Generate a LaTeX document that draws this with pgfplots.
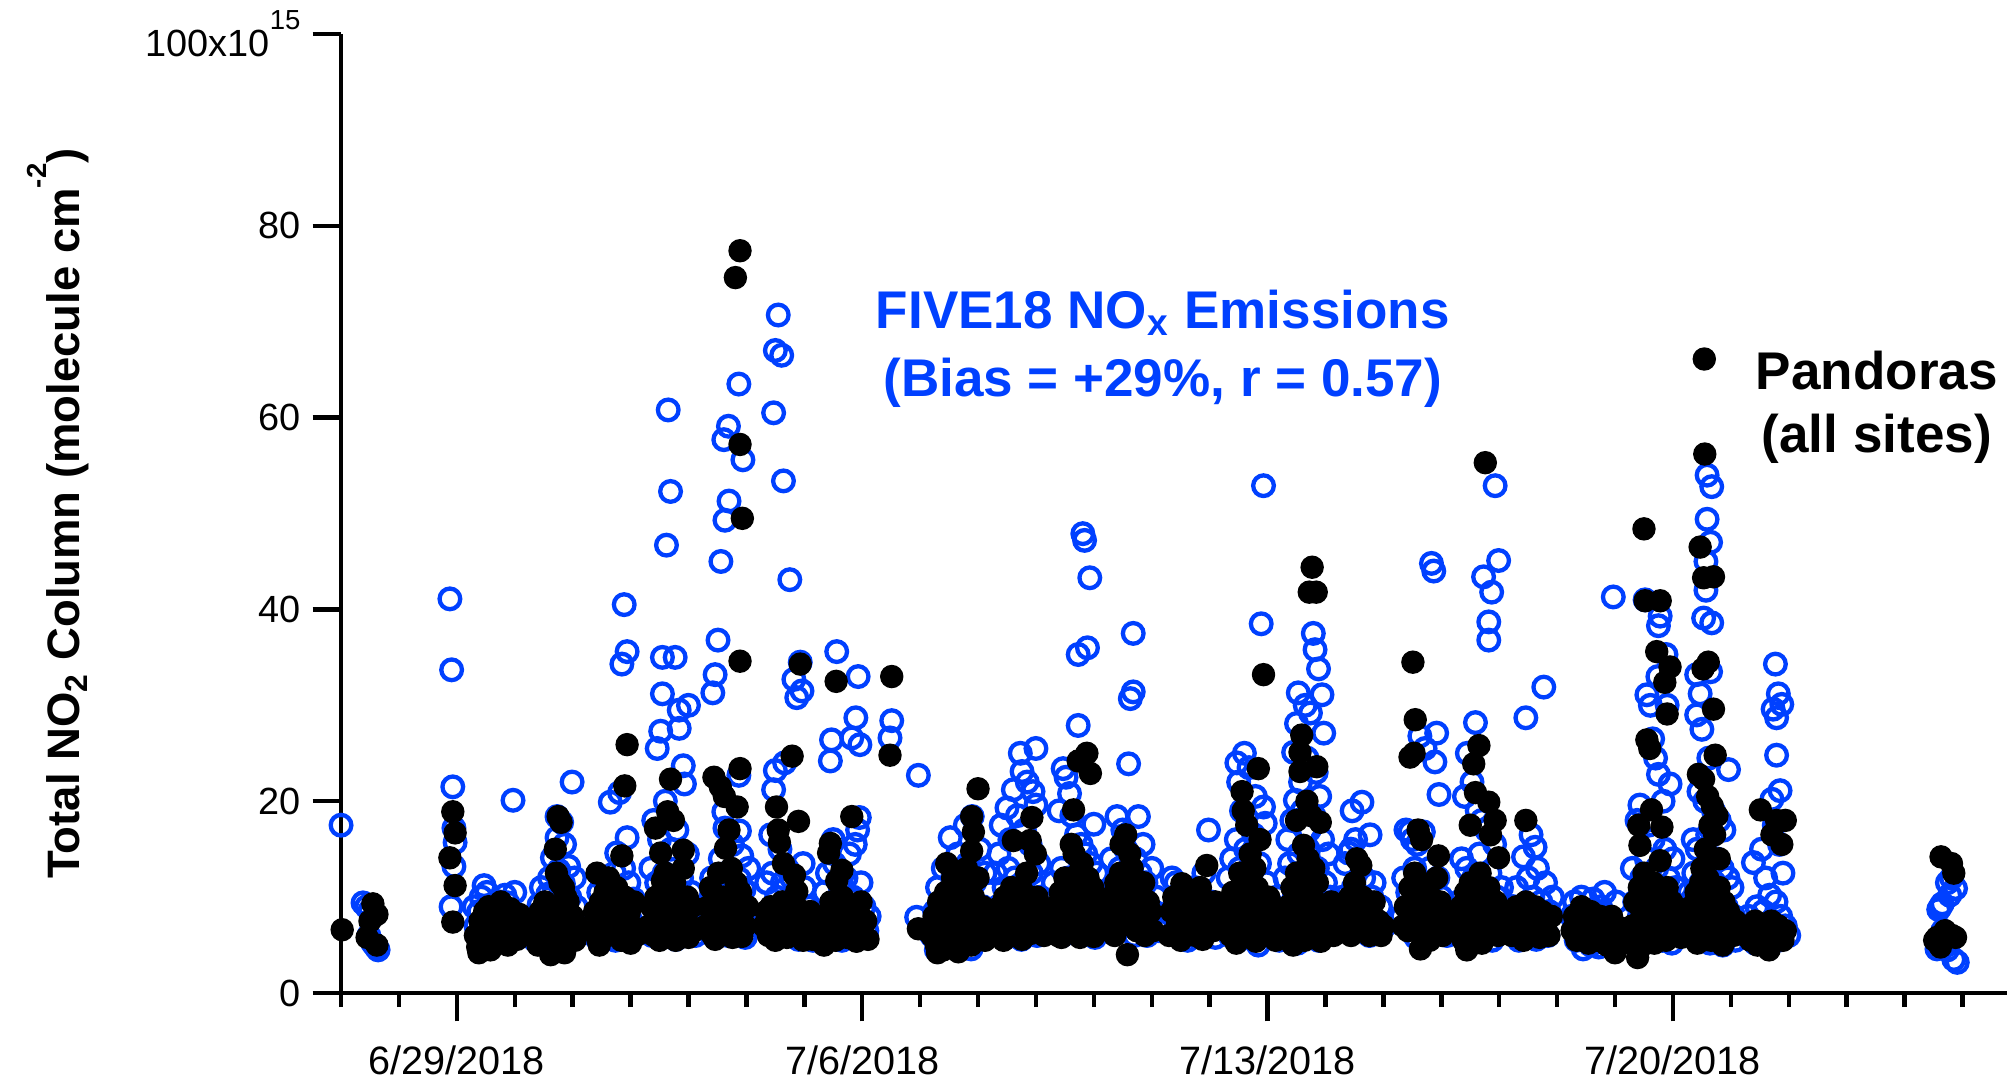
\documentclass[border=0pt]{standalone}
\usepackage{fontspec}
\setmainfont{Liberation Sans}
\usepackage{pgfplots}
\pgfplotsset{compat=1.18}
\usetikzlibrary{calc}
\definecolor{fiveblue}{RGB}{0,64,255}
\newcommand{\hisup}[1]{\raisebox{0.72em}{\fontsize{8}{8}\selectfont #1}}

\begin{document}
\begin{tikzpicture}
\begin{axis}[
    name=ax,
    scale only axis,
    width=17.0cm, height=9.786cm,
    xmin=0, xmax=28.77,
    ymin=0, ymax=100,
    axis lines=left,
    axis line style={-, line width=1.3pt},
    tick align=outside,
    tick style={black, line width=1.3pt},
    major tick length=0.29cm,
    minor tick length=0.145cm,
    xtick={2,9,16,23},
    xticklabels={6/29/2018,7/6/2018,7/13/2018,7/20/2018},
    minor xtick={0,1,...,28},
    ytick={0,20,40,60,80,100},
    yticklabels={0,20,40,60,80,100x10\hisup{15}},
    yticklabel style={font=\fontsize{11}{13}\selectfont},
    xticklabel style={font=\fontsize{11.5}{13}\selectfont, yshift=-0.12cm},
    /pgf/number format/assume math mode=true,
    ylabel={Total NO\textsubscript{2} Column (molecule cm\hisup{-2})},
    ylabel style={font=\bfseries\fontsize{13.2}{15}\selectfont,
        at={(axis description cs:-0.170,0.5)}, anchor=center},
    legend style={draw=none, fill=none, inner sep=0pt, nodes={inner sep=0pt},
        at={(0.8193,0.6611)}, anchor=center},
    clip=false,
]

% FIVE18 NOx emissions (model)
\addplot[only marks, mark=o, mark size=3.0pt, fiveblue, line width=1.25pt, forget plot] coordinates {
(0.00,17.5)
(0.38,9.4) (0.44,9.0) (0.50,8.6) (0.55,5.2) (0.60,4.8) (0.64,4.5) (0.48,6.0)
(1.88,41.1) (1.91,33.7) (1.93,21.5) (1.95,17.2) (1.97,15.7) (1.95,13.2) (1.90,9.0)
(2.97,20.1) (2.33,7.0) (2.38,8.5) (2.42,10.0) (2.47,11.2) (2.52,10.5) (2.56,9.0) (2.60,6.0) (2.65,5.5) (2.70,7.5) (2.74,9.5) (2.78,8.0) (2.83,10.2) (2.88,9.4) (2.92,7.2) (2.96,6.5) (3.02,8.0) (3.05,5.8) (2.50,5.2) (2.44,6.3) (2.86,5.4) (3.00,10.5) (2.30,9.0)
(3.99,22.0) (3.73,18.4) (3.81,17.8) (3.73,16.2) (3.86,15.5) (3.65,14.1) (3.57,10.3) (3.38,7.5) (3.42,9.2) (3.46,11.0) (3.50,8.4) (3.55,6.2) (3.60,12.0) (3.62,8.8) (3.68,10.6) (3.70,6.8) (3.76,12.8) (3.79,9.5) (3.84,11.4) (3.89,8.0) (3.93,13.2) (3.95,10.0) (4.00,7.0) (4.03,12.0) (4.06,9.0) (4.08,6.0) (3.35,5.5) (3.90,5.3)
(4.89,40.5) (4.94,35.6) (4.85,34.3) (4.81,20.9) (4.65,19.9) (4.94,16.2) (4.76,14.6) (4.53,8.8) (4.35,6.5) (4.40,8.0) (4.45,10.5) (4.50,12.0) (4.56,7.0) (4.60,11.0) (4.68,9.5) (4.72,12.5) (4.79,7.5) (4.84,10.0) (4.88,13.0) (4.92,9.0) (4.97,11.5) (5.01,7.2) (5.05,9.8) (5.10,6.4) (4.62,6.0) (4.74,5.5) (4.98,5.8) (4.43,5.6)
(5.65,60.8) (5.69,52.3) (5.62,46.7) (5.55,35.0) (5.77,35.0) (5.55,31.2) (6.00,30.0) (5.84,29.5) (5.52,27.3) (5.84,27.6) (5.46,25.5) (5.91,23.7) (5.93,21.8) (5.60,20.0) (5.40,18.0) (5.50,16.0) (5.70,15.0) (5.80,17.0) (5.98,14.5) (5.35,13.0) (5.45,11.5) (5.58,12.5) (5.66,10.0) (5.74,11.0) (5.88,12.0) (5.95,9.5) (6.05,10.5) (6.10,8.0) (5.32,8.5) (5.42,7.0) (5.53,9.0) (5.63,6.5) (5.72,8.0) (5.82,7.0) (5.90,6.2) (6.02,7.5) (5.37,6.0) (5.78,5.6) (6.12,6.0)
(6.87,63.5) (6.69,59.1) (6.61,57.7) (6.94,55.6) (6.70,51.3) (6.63,49.3) (6.56,45.0) (6.51,36.8) (6.46,33.2) (6.42,31.3) (6.87,22.7) (6.88,16.9) (6.61,18.9) (6.63,17.2) (6.92,14.3) (6.88,11.9) (6.30,7.5) (6.35,9.5) (6.40,12.0) (6.45,8.0) (6.50,10.5) (6.55,14.0) (6.58,7.0) (6.66,12.5) (6.72,9.0) (6.76,15.5) (6.80,10.0) (6.84,7.5) (6.90,8.5) (6.96,10.8) (7.00,7.0) (7.04,13.0) (6.68,6.0) (6.38,6.2) (6.98,5.8)
(7.55,70.7) (7.50,67.0) (7.61,66.5) (7.47,60.5) (7.64,53.4) (7.75,43.1) (7.93,34.5) (7.82,32.7) (7.96,31.5) (7.87,30.8) (7.50,23.2) (7.47,21.2) (7.98,13.5) (7.66,24.0) (7.42,16.5) (7.58,15.0) (7.70,13.0) (7.35,11.5) (7.45,12.5) (7.52,10.0) (7.62,11.5) (7.72,9.5) (7.78,12.0) (7.85,10.5) (7.92,8.5) (8.00,11.0) (8.06,9.0) (8.12,7.0) (7.30,8.0) (7.38,6.5) (7.48,7.5) (7.56,6.0) (7.68,7.0) (7.80,6.0) (7.90,5.6) (8.02,6.5) (8.15,5.5)
(8.56,35.6) (8.93,33.0) (8.89,28.7) (8.96,25.9) (8.82,26.6) (8.47,26.4) (8.45,24.2) (8.95,18.3) (8.92,17.0) (8.50,16.0) (8.30,8.0) (8.35,10.5) (8.40,12.5) (8.44,7.5) (8.52,13.5) (8.58,9.5) (8.62,11.0) (8.68,8.0) (8.72,12.0) (8.78,14.5) (8.84,10.0) (8.88,15.5) (8.90,7.0) (8.98,11.5) (9.03,9.0) (9.08,6.5) (8.38,6.0) (8.65,5.5) (8.80,6.5) (9.12,8.0)
(9.51,28.4) (9.48,26.6) (9.97,22.7) (9.94,7.9)
(10.20,6.0) (10.25,8.5) (10.30,11.0) (10.35,5.0) (10.40,13.0) (10.45,9.5) (10.50,7.0) (10.52,16.2) (10.56,12.0) (10.60,4.8) (10.65,14.5) (10.70,10.0) (10.74,6.5) (10.78,17.5) (10.82,13.5) (10.86,8.5) (10.90,18.4) (10.94,11.5) (10.98,5.5) (11.03,15.0) (11.08,9.0) (11.12,12.5) (11.18,7.0) (10.28,4.5) (10.42,5.6) (10.62,7.8) (10.88,4.6) (11.00,6.5)
(12.00,25.5) (11.73,25.0) (11.76,23.1) (11.61,21.2) (11.50,19.3) (12.00,19.6) (11.85,22.0) (11.95,21.0) (11.40,17.5) (11.55,16.0) (11.68,18.5) (11.80,17.0) (11.90,15.5) (12.05,13.5) (11.30,12.5) (11.36,14.5) (11.45,11.0) (11.52,13.0) (11.58,9.5) (11.64,12.0) (11.70,8.0) (11.78,11.0) (11.84,9.0) (11.92,12.5) (11.97,7.5) (12.08,10.0) (12.14,8.0) (11.26,7.0) (11.34,9.0) (11.48,6.5) (11.62,6.0) (11.75,5.6) (11.88,6.5) (12.02,6.0)
(12.81,47.9) (12.84,47.2) (12.93,43.3) (12.89,36.0) (12.73,35.3) (12.73,27.9) (12.47,23.4) (12.52,22.5) (12.58,20.8) (13.00,17.6) (12.40,19.0) (12.62,18.5) (12.70,16.5) (12.78,15.5) (12.86,14.5) (12.95,13.5) (13.05,12.5) (12.30,11.5) (12.35,9.0) (12.44,13.0) (12.50,10.5) (12.56,12.0) (12.66,8.5) (12.75,11.0) (12.82,9.5) (12.90,10.5) (12.98,8.0) (13.08,9.5) (13.14,7.0) (12.32,6.5) (12.46,6.0) (12.60,7.0) (12.72,6.2) (12.92,6.5) (13.02,5.8)
(13.68,37.5) (13.68,31.4) (13.63,30.7) (13.60,23.9) (13.77,18.4) (13.40,18.4) (13.50,17.0) (13.85,15.5) (13.30,14.0) (13.45,13.0) (13.55,15.0) (13.72,14.0) (13.80,12.5) (13.90,11.5) (14.00,13.0) (14.08,10.0) (13.26,9.5) (13.35,11.0) (13.42,8.5) (13.58,10.5) (13.66,9.0) (13.75,8.0) (13.86,9.5) (13.95,7.5) (14.04,8.5) (14.12,6.5) (13.32,6.5) (13.52,7.0) (13.70,6.0) (13.92,6.0)
(14.98,17.0) (14.35,12.0) (14.42,11.5) (14.50,10.5) (14.58,9.5) (14.66,8.5) (14.74,11.0) (14.82,10.0) (14.90,12.5) (14.95,8.0) (15.02,9.5) (15.08,7.5) (14.30,7.5) (14.40,6.5) (14.55,7.0) (14.70,6.0) (14.86,6.5) (15.10,5.8) (14.62,5.5)
(15.93,52.9) (15.89,38.5) (15.60,25.0) (15.47,24.0) (15.68,23.5) (15.50,22.0) (15.79,20.5) (15.93,19.4) (15.96,17.7) (15.55,19.0) (15.28,9.0) (15.32,12.0) (15.38,14.0) (15.42,10.0) (15.46,16.0) (15.52,13.0) (15.58,11.0) (15.62,15.0) (15.66,9.0) (15.72,12.5) (15.76,16.5) (15.82,10.5) (15.86,13.5) (15.90,8.0) (15.98,11.5) (16.04,9.5) (16.10,7.0) (16.16,10.0) (15.35,6.0) (15.50,5.5) (15.70,6.5) (15.84,5.0) (16.00,6.0) (16.20,5.5)
(16.79,37.5) (16.82,35.8) (16.88,33.8) (16.94,31.1) (16.53,31.3) (16.65,30.0) (16.74,29.2) (16.97,27.1) (16.50,28.1) (16.45,25.1) (16.48,20.1) (16.68,24.5) (16.84,23.0) (16.57,22.0) (16.90,20.5) (16.35,16.0) (16.42,18.0) (16.60,19.0) (16.72,17.0) (16.80,18.5) (16.95,16.0) (17.05,14.5) (16.30,12.0) (16.38,13.5) (16.46,10.0) (16.54,14.5) (16.62,12.0) (16.70,15.0) (16.76,11.0) (16.86,13.0) (16.92,9.5) (17.00,11.5) (17.08,10.0) (17.15,8.0) (16.32,7.5) (16.44,6.0) (16.58,8.0) (16.66,6.5) (16.82,7.0) (16.98,6.0) (17.10,6.5) (16.52,5.2) (16.88,5.5)
(17.63,19.9) (17.46,19.0) (17.77,16.5) (17.40,14.6) (17.52,16.0) (17.44,15.0) (17.34,13.5) (17.84,11.5) (17.30,10.0) (17.38,8.5) (17.48,11.0) (17.58,9.5) (17.66,12.0) (17.72,8.0) (17.80,10.0) (17.88,7.5) (17.95,9.0) (18.02,7.0) (17.36,6.5) (17.62,7.0) (17.76,6.0) (17.92,6.2)
(18.83,44.8) (18.87,44.0) (18.92,27.1) (18.63,26.8) (18.89,24.1) (18.96,20.7) (18.46,16.8) (18.69,16.8) (18.39,17.0) (18.50,16.0) (18.72,25.5) (18.58,15.5) (18.80,13.0) (18.35,12.0) (18.42,10.5) (18.54,13.0) (18.62,11.0) (18.70,9.0) (18.78,11.5) (18.85,9.5) (18.94,12.0) (19.00,10.0) (19.06,8.0) (19.12,9.0) (18.32,8.0) (18.48,7.0) (18.66,6.5) (18.82,7.0) (18.98,6.5) (19.10,6.0) (18.56,5.8)
(19.93,52.9) (19.99,45.1) (19.73,43.4) (19.87,41.8) (19.82,38.7) (19.82,36.8) (19.59,28.2) (19.45,25.0) (19.53,22.0) (19.40,20.5) (19.62,19.0) (19.70,18.0) (19.78,17.0) (19.92,15.5) (19.35,14.0) (19.44,13.0) (19.56,12.0) (19.66,14.5) (19.74,11.0) (19.84,12.5) (19.96,10.0) (20.04,11.0) (19.30,9.5) (19.38,8.0) (19.48,10.5) (19.60,8.5) (19.72,7.5) (19.80,9.0) (19.90,7.0) (20.00,8.0) (20.06,6.5) (19.42,6.0) (19.64,6.0) (19.88,5.5)
(20.77,31.9) (20.46,28.7) (20.62,15.2) (20.42,14.2) (20.55,16.5) (20.25,9.0) (20.30,11.0) (20.36,8.0) (20.50,12.0) (20.58,10.0) (20.66,13.0) (20.72,9.5) (20.80,11.5) (20.86,8.5) (20.92,10.0) (20.22,6.5) (20.40,6.0) (20.54,7.0) (20.70,6.5) (20.84,6.0) (20.34,5.5) (20.64,5.6)
(21.97,41.3) (21.25,8.0) (21.30,9.5) (21.36,7.0) (21.42,10.0) (21.48,6.0) (21.55,8.5) (21.62,9.8) (21.68,7.5) (21.75,9.0) (21.82,10.5) (21.88,8.0) (21.95,7.0) (22.02,9.5) (22.08,6.5) (21.33,5.5) (21.58,5.0) (21.72,4.8) (21.90,5.2) (22.12,5.5) (21.45,4.6)
(22.78,39.3) (22.75,38.3) (22.55,31.1) (22.61,30.0) (22.90,30.0) (22.75,22.8) (22.95,21.8) (22.43,19.6) (22.52,41.0) (22.88,35.3) (22.74,33.0) (22.65,26.5) (22.70,24.5) (22.83,20.0) (22.38,18.0) (22.58,17.5) (22.66,16.0) (22.86,15.0) (23.00,14.0) (22.30,13.0) (22.46,12.0) (22.54,14.0) (22.62,11.0) (22.72,13.0) (22.80,10.0) (22.92,12.0) (23.05,11.0) (23.12,9.0) (22.34,9.5) (22.42,8.0) (22.50,7.0) (22.64,8.5) (22.76,7.5) (22.86,6.5) (22.96,8.0) (23.08,7.0) (23.16,6.0) (22.40,5.5) (22.60,5.8) (22.82,5.5) (22.98,5.2)
(23.59,54.0) (23.67,52.8) (23.59,49.4) (23.57,45.0) (23.57,42.0) (23.53,39.1) (23.67,38.6) (23.41,33.2) (23.47,31.2) (23.41,29.0) (23.96,23.3) (23.65,47.0) (23.65,33.5) (23.50,27.5) (23.62,24.5) (23.45,21.0) (23.55,20.0) (23.70,19.0) (23.80,18.0) (23.88,17.0) (23.35,16.0) (23.42,15.0) (23.60,16.5) (23.75,14.0) (23.85,13.0) (23.95,12.0) (24.02,11.0) (23.28,10.5) (23.36,12.5) (23.48,11.5) (23.58,13.0) (23.66,10.0) (23.72,11.5) (23.82,9.5) (23.92,9.0) (24.05,8.0) (23.30,7.5) (23.40,8.5) (23.52,7.0) (23.62,8.0) (23.70,6.5) (23.78,7.5) (23.90,6.0) (24.00,6.5) (24.08,5.5) (23.44,5.5) (23.64,5.2) (23.86,5.0)
(24.77,34.3) (24.82,31.2) (24.88,30.1) (24.73,29.6) (24.79,28.7) (24.79,24.8) (24.85,21.1) (24.71,20.2) (24.39,13.6) (24.67,10.2) (24.84,15.5) (24.53,15.0) (24.75,17.5) (24.60,12.0) (24.90,12.5) (24.25,6.0) (24.30,8.0) (24.35,6.5) (24.45,9.0) (24.50,7.0) (24.56,8.5) (24.62,6.0) (24.70,7.5) (24.78,9.5) (24.86,8.0) (24.94,7.0) (25.00,6.0) (24.42,5.2) (24.66,5.0) (24.82,5.5)
(27.88,10.9) (27.65,9.3) (27.59,8.7) (27.56,4.6) (27.91,3.2) (27.81,12.0) (27.74,11.5) (27.78,10.2) (27.62,9.0) (27.66,6.5) (27.76,6.0) (27.60,5.0) (27.74,4.5) (27.85,3.5)
};

% Pandoras (all sites)
\addplot[only marks, mark=*, mark size=3.2pt, black, mark options={fill=black, draw=black, line width=0.4pt}] coordinates {
(0.02,6.6)
(0.55,9.3) (0.62,8.2) (0.45,5.8) (0.62,5.0) (0.50,7.5)
(1.93,18.9) (1.97,16.7) (1.88,14.1) (1.97,11.2) (1.93,7.4)
(2.32,6.0) (2.36,4.8) (2.40,7.5) (2.44,5.5) (2.48,8.5) (2.52,6.5) (2.55,9.0) (2.60,5.2) (2.64,7.0) (2.68,8.0) (2.72,5.8) (2.76,9.5) (2.80,6.8) (2.84,7.8) (2.88,5.0) (2.92,8.8) (2.96,6.2) (3.00,7.2) (3.04,5.6) (3.08,8.2) (2.38,4.2) (2.58,4.5)
(3.75,18.4) (3.80,17.8) (3.70,15.0) (3.72,12.5) (3.78,11.5) (3.84,11.0) (3.88,10.0) (3.32,6.0) (3.36,7.5) (3.40,5.0) (3.44,8.5) (3.48,6.5) (3.52,9.5) (3.56,5.5) (3.60,8.0) (3.64,4.5) (3.68,7.0) (3.72,9.0) (3.76,6.0) (3.80,8.5) (3.84,5.0) (3.88,7.5) (3.92,9.5) (3.96,6.5) (4.00,8.0) (4.04,5.5) (4.08,7.0) (3.62,4.0) (3.86,4.2)
(4.94,25.9) (4.90,21.6) (4.85,14.3) (4.42,12.5) (4.62,12.0) (4.76,11.0) (4.34,6.5) (4.38,8.5) (4.44,5.5) (4.48,9.5) (4.52,7.0) (4.56,10.5) (4.60,6.0) (4.66,8.0) (4.70,10.0) (4.74,6.8) (4.80,9.0) (4.86,7.5) (4.90,10.0) (4.94,6.5) (4.98,8.5) (5.02,7.0) (5.06,9.5) (5.10,6.0) (4.46,5.0) (4.84,5.5) (5.00,5.2)
(5.69,22.3) (5.64,18.9) (5.43,17.2) (5.74,18.0) (5.91,14.9) (5.52,14.6) (5.91,13.0) (5.55,11.7) (5.32,7.0) (5.36,9.0) (5.40,6.0) (5.44,10.0) (5.48,7.5) (5.56,8.5) (5.60,12.5) (5.64,6.5) (5.68,10.5) (5.72,8.0) (5.76,11.5) (5.80,7.0) (5.84,9.5) (5.88,6.0) (5.94,8.0) (5.98,10.0) (6.02,7.0) (6.06,9.0) (6.10,6.5) (5.50,5.5) (5.78,5.5) (6.00,5.8)
(6.89,77.4) (6.81,74.6) (6.89,57.2) (6.93,49.5) (6.89,34.6) (6.89,23.4) (6.44,22.5) (6.55,21.5) (6.62,20.5) (6.84,19.4) (6.70,17.0) (6.64,15.1) (6.30,7.0) (6.34,9.0) (6.38,11.0) (6.42,6.0) (6.48,8.0) (6.52,12.5) (6.56,7.5) (6.60,10.0) (6.66,6.5) (6.70,9.5) (6.74,13.0) (6.78,8.0) (6.82,11.5) (6.86,6.2) (6.90,10.5) (6.94,8.5) (6.98,7.0) (7.02,9.0) (6.76,5.8) (6.92,5.9) (6.46,5.6)
(7.93,34.3) (7.79,24.7) (7.52,19.4) (7.55,17.0) (7.90,17.9) (7.64,13.5) (7.87,10.6) (7.57,15.7) (7.83,12.3) (7.30,7.0) (7.34,8.5) (7.38,6.0) (7.42,9.0) (7.46,7.5) (7.50,5.5) (7.54,8.0) (7.58,6.5) (7.62,9.5) (7.66,7.0) (7.70,5.8) (7.74,8.5) (7.78,6.2) (7.82,7.5) (7.86,9.0) (7.90,6.0) (7.94,8.0) (7.98,5.5) (8.02,7.0) (8.06,6.0) (8.10,8.5) (8.14,5.6)
(8.55,32.5) (8.82,18.4) (8.45,15.6) (8.42,14.6) (8.56,11.7) (8.65,12.8) (8.30,7.0) (8.34,5.0) (8.38,8.0) (8.42,6.0) (8.46,9.5) (8.50,7.0) (8.54,5.5) (8.58,8.5) (8.62,6.5) (8.66,10.0) (8.70,7.5) (8.74,5.8) (8.78,9.0) (8.82,6.8) (8.86,8.0) (8.90,5.4) (8.94,7.0) (8.98,9.5) (9.02,6.0) (9.06,7.5) (9.10,5.6)
(9.51,33.0) (9.48,24.8) (9.97,6.7)
(11.00,21.3) (10.89,18.4) (10.92,16.8) (10.89,14.8) (10.46,13.5) (10.20,6.0) (10.24,8.0) (10.28,5.0) (10.32,9.5) (10.36,7.0) (10.40,4.5) (10.44,10.5) (10.48,6.5) (10.52,8.5) (10.56,12.0) (10.60,5.5) (10.64,9.0) (10.68,7.5) (10.72,11.0) (10.76,6.0) (10.80,13.0) (10.84,8.0) (10.88,5.0) (10.92,10.0) (10.96,7.0) (11.00,12.0) (11.04,6.5) (11.08,9.0) (11.12,5.5) (11.16,7.5) (10.30,4.2) (10.66,4.3) (10.78,11.5)
(11.93,18.3) (11.90,15.9) (11.61,15.9) (11.84,12.5) (11.99,14.5) (11.26,6.5) (11.30,8.0) (11.34,6.0) (11.38,9.0) (11.42,7.0) (11.46,10.0) (11.50,6.5) (11.54,8.5) (11.58,11.0) (11.62,7.0) (11.66,9.5) (11.70,6.0) (11.74,8.0) (11.78,10.5) (11.82,7.5) (11.86,9.0) (11.90,6.2) (11.94,8.5) (11.98,7.0) (12.02,10.0) (12.06,6.5) (12.10,8.0) (12.14,6.0) (11.44,5.5) (11.76,5.6)
(12.88,25.0) (12.73,24.2) (12.94,22.9) (12.65,19.1) (12.61,15.5) (12.66,14.5) (12.80,13.5) (12.90,12.0) (12.30,7.0) (12.34,9.0) (12.38,6.0) (12.42,10.5) (12.46,7.5) (12.50,12.0) (12.54,8.5) (12.58,6.5) (12.62,11.0) (12.66,9.5) (12.70,7.0) (12.74,12.5) (12.78,8.0) (12.82,10.5) (12.86,6.5) (12.90,9.0) (12.94,7.5) (12.98,11.0) (13.02,8.0) (13.06,6.5) (13.10,9.0) (13.14,7.0) (12.44,5.8) (12.76,5.8) (13.00,5.9)
(13.55,16.5) (13.47,15.5) (13.62,14.5) (13.58,4.0) (13.26,8.0) (13.30,10.0) (13.34,7.0) (13.38,11.5) (13.42,8.5) (13.46,12.5) (13.50,9.5) (13.54,7.5) (13.58,11.0) (13.62,8.0) (13.66,13.0) (13.70,9.0) (13.74,6.5) (13.78,10.5) (13.82,8.0) (13.86,11.5) (13.90,7.0) (13.94,9.5) (13.98,8.5) (14.02,6.5) (13.36,6.0) (13.88,6.0)
(14.95,13.3) (14.89,9.0) (14.52,11.4) (14.30,6.0) (14.34,8.5) (14.38,10.0) (14.44,7.0) (14.48,9.0) (14.56,8.0) (14.60,6.5) (14.64,10.5) (14.68,7.5) (14.72,9.5) (14.76,6.0) (14.80,8.5) (14.84,11.0) (14.92,7.0) (15.00,8.0) (15.06,6.5) (15.10,9.5) (14.50,5.5) (14.88,5.6)
(15.93,33.2) (15.84,23.4) (15.56,21.0) (15.64,17.5) (15.87,16.0) (15.58,19.0) (15.70,14.5) (15.78,13.0) (15.52,12.5) (15.28,7.0) (15.32,9.0) (15.36,6.0) (15.40,10.5) (15.44,7.5) (15.48,9.5) (15.54,6.5) (15.60,11.5) (15.66,8.0) (15.72,10.0) (15.76,7.0) (15.82,11.0) (15.86,8.5) (15.90,6.5) (15.94,9.5) (15.98,7.5) (16.02,10.0) (16.06,6.5) (16.10,8.0) (16.14,5.5) (16.18,7.0) (15.46,5.2) (15.80,5.4)
(16.77,44.4) (16.72,41.8) (16.84,41.8) (16.59,26.9) (16.56,25.1) (16.56,23.1) (16.85,23.6) (16.50,18.0) (16.91,17.8) (16.62,15.4) (16.68,20.0) (16.75,18.5) (16.70,14.0) (16.80,13.0) (16.30,7.0) (16.34,9.0) (16.38,6.0) (16.42,11.0) (16.46,8.0) (16.50,12.5) (16.54,6.5) (16.58,10.0) (16.62,7.5) (16.66,12.0) (16.70,8.5) (16.74,10.5) (16.78,6.5) (16.82,9.5) (16.86,11.5) (16.90,7.5) (16.94,9.0) (16.98,6.0) (17.02,8.5) (17.06,7.0) (17.10,9.5) (17.14,6.0) (17.18,7.5) (16.44,5.0) (16.64,5.5) (16.92,5.4)
(17.61,13.3) (17.54,14.0) (17.30,7.0) (17.34,8.5) (17.38,6.5) (17.42,10.0) (17.46,7.5) (17.50,11.5) (17.56,8.0) (17.60,6.5) (17.64,10.0) (17.68,7.0) (17.72,9.0) (17.76,6.0) (17.80,8.0) (17.84,9.5) (17.88,6.5) (17.92,7.5) (17.96,6.0) (18.00,7.0) (17.44,6.0)
(18.51,34.5) (18.55,28.5) (18.46,24.6) (18.53,25.0) (18.95,14.3) (18.92,12.0) (18.60,17.0) (18.66,16.0) (18.34,7.0) (18.38,9.0) (18.42,6.5) (18.46,11.0) (18.50,8.0) (18.54,12.5) (18.58,7.0) (18.62,10.0) (18.66,6.0) (18.70,9.0) (18.74,11.0) (18.78,7.5) (18.82,10.0) (18.86,6.5) (18.90,8.5) (18.94,7.0) (18.98,9.5) (19.02,6.0) (19.06,8.0) (19.10,6.5) (18.64,4.6) (18.80,5.5)
(19.76,55.3) (19.65,25.8) (19.56,23.9) (19.59,20.9) (19.82,19.9) (19.93,18.0) (19.50,17.5) (19.85,16.5) (19.99,14.1) (19.67,12.5) (19.30,7.0) (19.34,9.0) (19.38,5.5) (19.42,10.5) (19.46,7.5) (19.50,11.5) (19.54,8.0) (19.58,6.0) (19.62,9.5) (19.66,7.0) (19.70,10.5) (19.74,8.0) (19.78,6.5) (19.82,11.0) (19.86,8.5) (19.90,7.0) (19.94,9.5) (19.98,6.0) (20.02,8.0) (20.06,6.5) (19.44,4.5) (19.70,5.2)
(20.46,18.0) (20.22,6.0) (20.26,7.5) (20.30,9.0) (20.34,6.5) (20.38,8.5) (20.42,5.5) (20.46,9.5) (20.50,7.0) (20.54,8.0) (20.58,6.0) (20.62,9.0) (20.66,7.5) (20.70,5.8) (20.74,8.5) (20.78,6.5) (20.82,7.5) (20.86,6.0) (20.90,8.0)
(22.00,4.2) (21.26,6.5) (21.30,8.0) (21.34,5.5) (21.38,7.0) (21.42,9.0) (21.46,6.0) (21.50,7.5) (21.54,5.2) (21.58,8.5) (21.62,6.5) (21.66,7.0) (21.70,5.5) (21.74,8.0) (21.78,6.0) (21.82,7.5) (21.86,5.0) (21.90,6.5) (21.94,8.0) (22.04,5.5) (22.08,6.8) (22.12,5.2)
(22.50,48.4) (22.52,40.9) (22.78,40.9) (22.72,35.6) (22.95,34.0) (22.86,32.4) (22.90,29.1) (22.55,26.4) (22.60,25.5) (22.63,19.1) (22.81,17.3) (22.43,15.4) (22.78,13.8) (22.39,3.7) (22.41,17.5) (22.30,7.0) (22.34,9.5) (22.38,6.0) (22.42,11.0) (22.46,8.0) (22.50,12.5) (22.54,7.0) (22.58,10.0) (22.62,6.5) (22.66,11.5) (22.70,8.5) (22.74,7.0) (22.78,10.5) (22.82,6.0) (22.86,9.0) (22.90,11.0) (22.94,7.5) (22.98,9.5) (23.02,6.5) (23.06,8.0) (23.10,7.0) (23.14,5.8) (22.48,5.0) (22.68,5.2) (22.88,5.5)
(23.55,56.2) (23.47,46.5) (23.53,43.3) (23.70,43.4) (23.61,34.5) (23.52,33.8) (23.70,29.6) (23.73,24.8) (23.44,22.8) (23.53,22.3) (23.60,20.5) (23.68,19.5) (23.76,18.5) (23.64,17.5) (23.72,16.5) (23.56,15.0) (23.80,14.0) (23.50,13.0) (23.28,7.0) (23.32,9.0) (23.36,6.0) (23.40,10.5) (23.44,8.0) (23.48,11.5) (23.52,7.0) (23.56,9.5) (23.60,12.0) (23.64,7.5) (23.68,10.5) (23.72,8.5) (23.76,6.5) (23.80,11.0) (23.84,8.0) (23.88,9.5) (23.92,6.5) (23.96,8.5) (24.00,7.0) (24.04,6.0) (24.08,7.5) (23.42,5.2) (23.66,5.5) (23.86,5.0)
(24.51,19.1) (24.79,18.0) (24.94,18.0) (24.88,15.5) (24.71,16.5) (24.26,6.0) (24.30,7.0) (24.34,5.5) (24.38,6.5) (24.42,7.5) (24.46,5.0) (24.50,6.0) (24.54,7.0) (24.58,5.5) (24.62,6.5) (24.66,4.5) (24.70,7.5) (24.74,6.0) (24.78,5.5) (24.82,7.0) (24.86,6.0) (24.90,5.5) (24.94,6.5)
(27.63,14.2) (27.81,13.5) (27.85,12.5) (27.56,5.8) (27.88,5.8) (27.70,6.5) (27.82,6.0) (27.52,5.5) (27.62,4.8)
};
\addlegendentry{}

% annotations
\node[font=\bfseries\fontsize{15.4}{18}\selectfont, text=fiveblue, anchor=base]
    at (axis cs:14.19,69.34) {FIVE18 NO\textsubscript{x} Emissions};
\node[font=\bfseries\fontsize{15.4}{18}\selectfont, text=fiveblue, anchor=base]
    at (axis cs:14.19,62.15) {(Bias = +29\%, r = 0.57)};
\node[font=\bfseries\fontsize{15.4}{18}\selectfont, anchor=base]
    at (axis cs:26.52,62.88) {Pandoras};
\node[font=\bfseries\fontsize{15.4}{18}\selectfont, anchor=base]
    at (axis cs:26.52,56.41) {(all sites)};
\end{axis}
\pgfresetboundingbox
\path[use as bounding box] ($(ax.south west)+(-3.48cm,-0.898cm)$) rectangle ($(ax.north east)+(0.03cm,0.347cm)$);
\end{tikzpicture}
\end{document}
